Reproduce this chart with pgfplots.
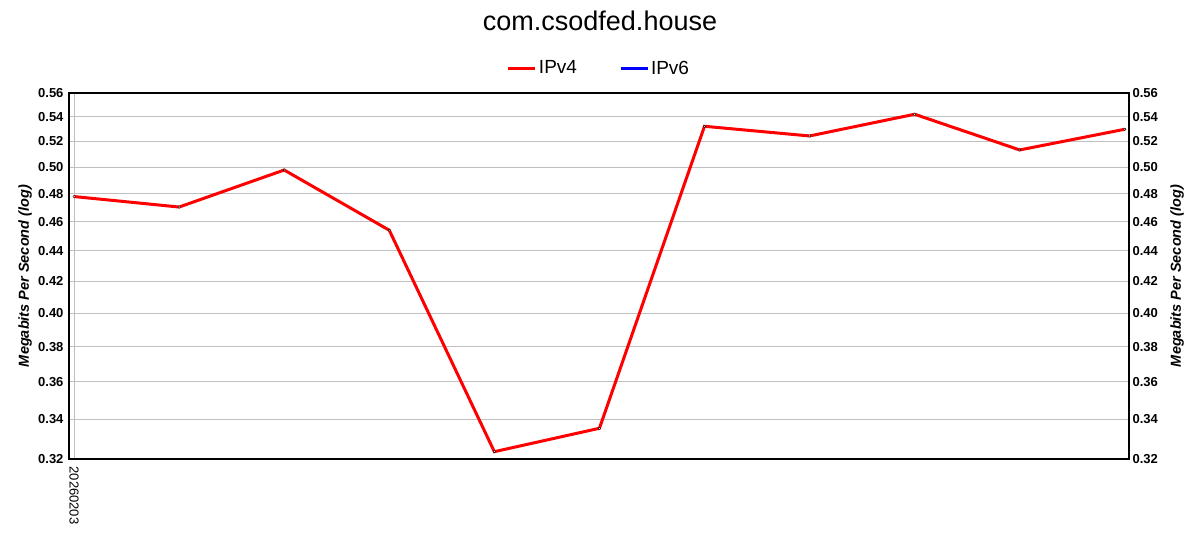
\documentclass[border=0pt]{standalone}
\usepackage{fontspec}
\setmainfont{Liberation Sans}
\usepackage{pgfplots}
\pgfplotsset{compat=1.18}
\definecolor{gridgray}{RGB}{192,192,192}
\begin{document}
\begin{tikzpicture}[x=1pt,y=1pt]
\path (0,0) rectangle (1200,550);
\node[font=\fontsize{27}{31}\selectfont] at (600,529) {com.csodfed.house};
\begin{axis}[
  at={(69pt,91pt)}, anchor=south west, scale only axis,
  width=1060pt, height=366pt,
  ymode=log, ymin=0.32, ymax=0.56, xmin=-0.048, xmax=10.04,
  ytick={0.32,0.34,0.36,0.38,0.40,0.42,0.44,0.46,0.48,0.50,0.52,0.54,0.56},
  yticklabels={0.32,0.34,0.36,0.38,0.40,0.42,0.44,0.46,0.48,0.50,0.52,0.54,0.56},
  major tick length=0pt,
  yticklabel style={font=\fontsize{13}{15}\selectfont\bfseries, xshift=-2pt},
  axis line style={line width=1.2pt},
  xtick={0}, xticklabels={20260203},
  xticklabel style={yshift=-4pt, rotate=-90, anchor=west, font=\fontsize{13}{15}\selectfont},
  grid=major, major grid style={draw=gridgray, line width=1pt},
  ylabel={Megabits Per Second (log)},
  every axis y label/.style={at={(axis description cs:-0.0415,0.5)}, rotate=90, anchor=center,
    font=\fontsize{14.5}{16}\selectfont\bfseries\itshape},
  legend columns=2,
  legend style={at={(0.5,1.068)}, anchor=center, draw=none, fill=none,
    font=\fontsize{19}{22}\selectfont,
    /tikz/every even column/.append style={column sep=40pt}},
  legend image code/.code={\draw[#1, line width=3pt] (0pt,0pt) -- (27pt,0pt);},
]
\addplot[red, line width=3pt, mark=*, mark size=1.2pt,
  mark options={fill=white, draw=black, line width=0.4pt}]
  coordinates {
  (0,0.478) (1,0.4704) (2,0.4978) (3,0.454) (4,0.3236) (5,0.3354)
  (6,0.5322) (7,0.5244) (8,0.5421) (9,0.5133) (10,0.5298)
  };
\addlegendentry{IPv4}
\addlegendimage{blue, line width=3pt}
\addlegendentry{IPv6}
\end{axis}
\begin{axis}[
  at={(69pt,91pt)}, anchor=south west, scale only axis,
  width=1060pt, height=366pt,
  ymode=log, ymin=0.32, ymax=0.56, xmin=-0.048, xmax=10.04,
  ytick={0.32,0.34,0.36,0.38,0.40,0.42,0.44,0.46,0.48,0.50,0.52,0.54,0.56},
  yticklabels={0.32,0.34,0.36,0.38,0.40,0.42,0.44,0.46,0.48,0.50,0.52,0.54,0.56},
  major tick length=0pt,
  yticklabel style={font=\fontsize{13}{15}\selectfont\bfseries},
  axis line style={line width=1.2pt},
  axis y line*=right, axis x line=none,
  ylabel={Megabits Per Second (log)},
  every axis y label/.style={at={(axis description cs:1.0453,0.5)}, rotate=90, anchor=center,
    font=\fontsize{14.5}{16}\selectfont\bfseries\itshape},
]
\addplot[draw=none] coordinates {(0,0.4)};
\end{axis}
\end{tikzpicture}
\end{document}
